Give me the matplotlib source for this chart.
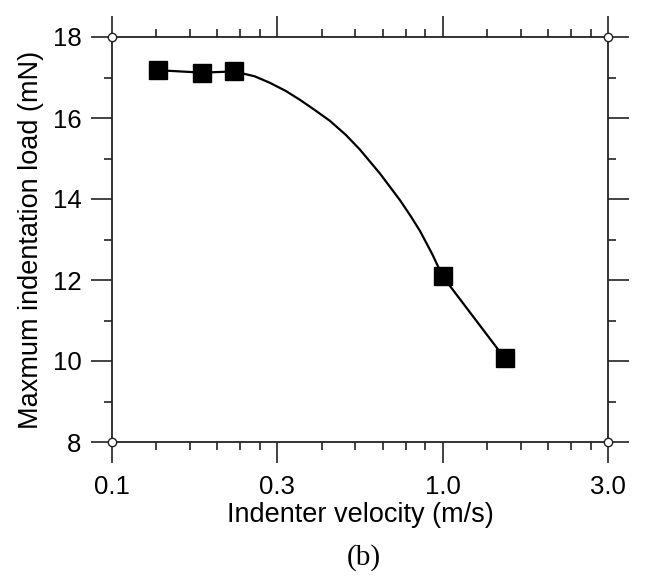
import numpy as np
import matplotlib
matplotlib.use("Agg")
import matplotlib.pyplot as plt
from matplotlib.ticker import FixedLocator, NullFormatter

plt.rcParams['font.family'] = ['Liberation Sans', 'DejaVu Sans']

# Data
velocity = [0.138, 0.187, 0.234, 1.0, 1.54]
max_load = [17.18, 17.12, 17.15, 12.09, 10.07]

# fitted curve
curve_v = [0.138, 0.187, 0.234, 0.27, 0.30, 0.335, 0.37, 0.41, 0.456, 0.51, 0.562,
           0.646, 0.743, 0.80, 0.854, 0.93, 1.0, 1.54]
curve_load = [17.18, 17.12, 17.15, 17.03, 16.87, 16.67, 16.45, 16.20, 15.93, 15.58, 15.22,
              14.63, 13.97, 13.58, 13.21, 12.64, 12.09, 10.07]

major_x = [0.1, 10 ** -0.5, 1.0, 10 ** 0.5]
major_labels = ["0.1", "0.3", "1.0", "3.0"]

fig = plt.figure(figsize=(6.47, 5.84), dpi=100)
ax = fig.add_axes([112 / 647, 1 - 442 / 584, (608 - 112) / 647, (442 - 37) / 584])

ax.plot(curve_v, curve_load, color='black', linewidth=1.6, zorder=3)
ax.plot(velocity, max_load, linestyle='none', marker='s', markersize=12.5,
        color='black', zorder=4)

ax.set_xscale('log')
ax.set_xlim(major_x[0], major_x[-1])
ax.set_ylim(8, 18)

# minor ticks: 5 linear subdivisions between each pair of major ticks
minor_x = []
for a, b in zip(major_x[:-1], major_x[1:]):
    step = (b - a) / 6
    minor_x += [a + k * step for k in range(1, 6)]

ax.xaxis.set_major_locator(FixedLocator(major_x))
ax.set_xticklabels(major_labels)
ax.xaxis.set_minor_locator(FixedLocator(minor_x))
ax.xaxis.set_minor_formatter(NullFormatter())
ax.set_yticks([8, 10, 12, 14, 16, 18])
ax.set_yticks([9, 11, 13, 15, 17], minor=True)

ax.tick_params(which='both', direction='out', top=True, right=True,
               color='#222222', width=1.2, labelsize=18.5)
ax.tick_params(which='major', length=15)
ax.tick_params(which='minor', length=6)
ax.tick_params(axis='x', which='major', pad=9)
ax.tick_params(axis='y', which='major', pad=7)

for sp in ax.spines.values():
    sp.set_linewidth(1.3)
    sp.set_color('#222222')

# small open circles at the corners
xl = ax.get_xlim()
yl = ax.get_ylim()
ax.plot([xl[0], xl[0], xl[1], xl[1]], [yl[0], yl[1], yl[0], yl[1]],
        linestyle='none', marker='o', markersize=6, markerfacecolor='white',
        markeredgecolor='#222222', markeredgewidth=1.0, clip_on=False, zorder=6)

ax.set_xlabel("Indenter velocity (m/s)", fontsize=19.5, labelpad=2)
ax.set_ylabel("Maxmum indentation load (mN)", fontsize=19.5, labelpad=6)

fig.text(364 / 647, 1 - 558 / 584, "(b)", family=['Liberation Serif', 'DejaVu Serif'],
         fontsize=21, ha='center', va='center')

fig.savefig("out.png", dpi=100)
